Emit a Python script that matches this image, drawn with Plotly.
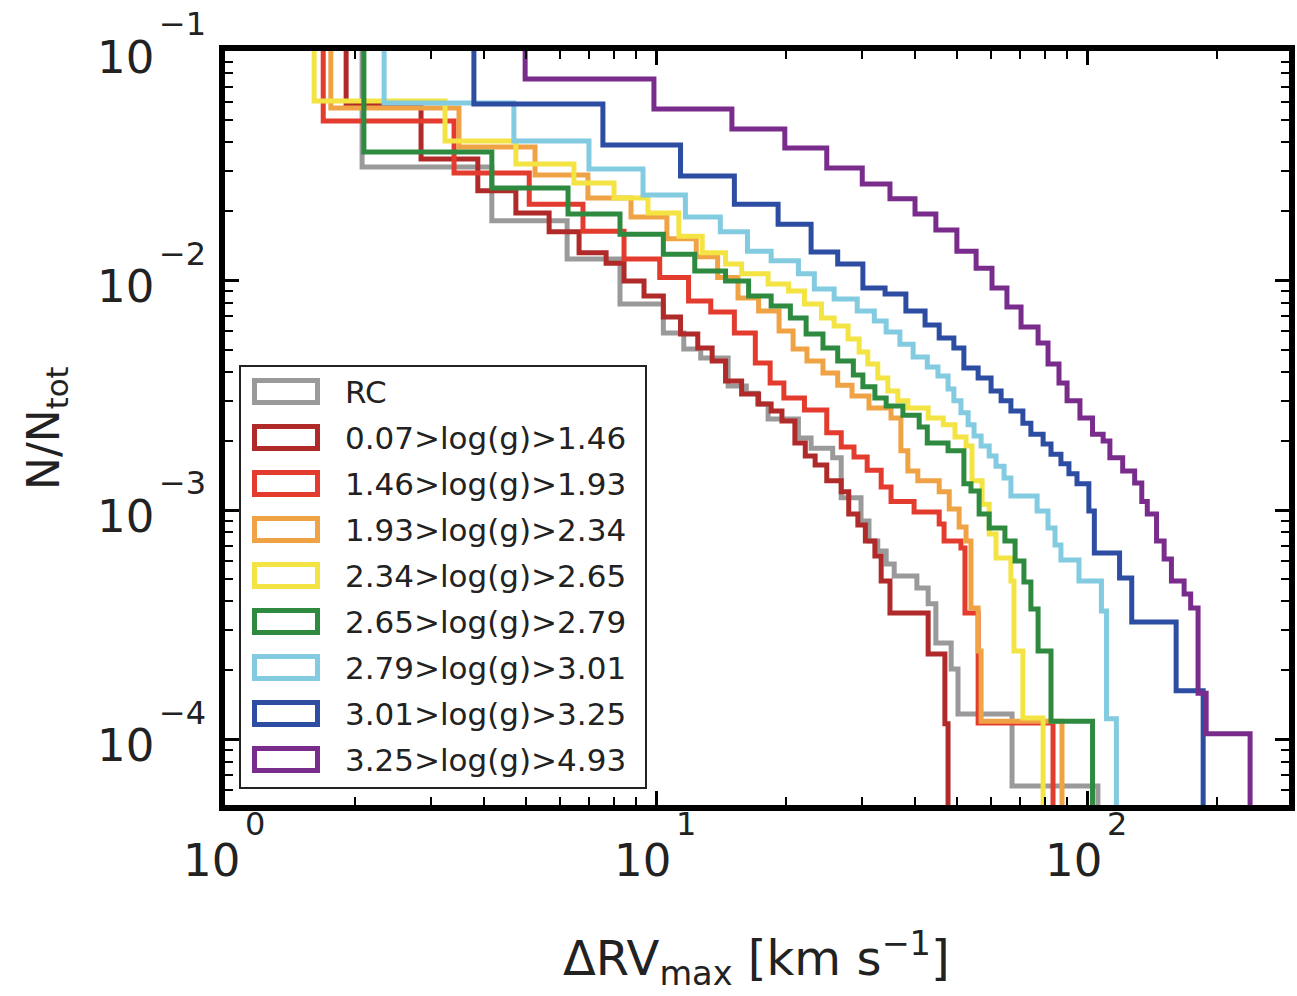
import numpy as np
import plotly.graph_objects as go

# ---------------------------------------------------------------
# Cumulative distributions N(>dRV_max)/N_tot per surface-gravity bin.
# *_x : bin edges (km/s) where each level starts, last entry = maximum
# *_y : fraction of stars above the corresponding edge
# ---------------------------------------------------------------
labels = ["RC", "0.07>log(g)>1.46", "1.46>log(g)>1.93", "1.93>log(g)>2.34",
          "2.34>log(g)>2.65", "2.65>log(g)>2.79", "2.79>log(g)>3.01",
          "3.01>log(g)>3.25", "3.25>log(g)>4.93"]
colors = ["#9a9a9a", "#b02a2a", "#e33b2e", "#f0a345", "#f4e443",
          "#2e8a3e", "#82cbe0", "#2d4da3", "#7a2c8c"]

rc_x = [2.08, 4.16, 6.22, 8.25, 10.4, 11.6, 12.7, 14.7, 16.2, 17.2, 18.2, 21.4, 22.9,
        25.7, 26.9, 29.9, 31.2, 32.7, 34.2, 35.7, 40.3, 42.8, 44.6, 48.4, 50.2, 67.0, 106]
rc_y = [0.0312, 0.0182, 0.0124, 0.0079, 0.0059, 0.00503, 0.0046, 0.00347, 0.00323,
        0.0029, 0.00249, 0.00206, 0.00186, 0.00169, 0.00113, 0.000896, 0.000733,
        0.000663, 0.000582, 0.000516, 0.000457, 0.00039, 0.000263, 0.000203,
        0.000129, 6.27e-5]

g1_x = [1.91, 2.85, 3.86, 4.73, 5.65, 6.63, 7.66, 8.43, 9.38, 10.4, 11.4, 12.5, 13.5,
        14.5, 15.8, 17.3, 18.5, 19.6, 21.0, 22.2, 23.4, 24.9, 26.9, 28.0, 29.4, 30.6,
        32.2, 33.3, 34.9, 42.8, 46.8, 47.6]
g1_y = [0.0582, 0.0338, 0.0246, 0.0197, 0.0163, 0.0132, 0.0119, 0.00995, 0.00856,
        0.00693, 0.00585, 0.00508, 0.00446, 0.00365, 0.0032, 0.0029, 0.0027, 0.00244,
        0.00196, 0.00172, 0.00157, 0.00134, 0.0012, 0.00096, 0.00086, 0.000733,
        0.00063, 0.00049, 0.000356, 0.000236, 0.000117]

g2_x = [1.69, 3.40, 5.08, 6.77, 8.43, 10.2, 11.9, 13.4, 15.2, 17.0, 18.4, 19.8, 22.1,
        24.9, 26.9, 28.8, 30.9, 33.3, 35.1, 39.7, 45.4, 46.6, 51.0, 52.1, 55.9, 83.4]
g2_y = [0.0496, 0.0294, 0.0215, 0.0164, 0.0124, 0.0103, 0.00814, 0.00729, 0.0059,
        0.00437, 0.00358, 0.00308, 0.00273, 0.00217, 0.00188, 0.0017, 0.00149,
        0.00126, 0.00109, 0.00098, 0.000869, 0.000733, 0.000683, 0.000356, 0.000118]

g3_x = [1.76, 3.49, 5.24, 6.95, 8.75, 10.6, 12.4, 13.9, 15.5, 17.3, 19.3, 20.8, 22.4,
        24.4, 26.4, 28.5, 31.2, 35.1, 37.0, 38.4, 40.5, 45.4, 47.9, 50.5, 52.4, 53.8,
        55.9, 56.8, 87.5]
g3_y = [0.0564, 0.0382, 0.0288, 0.0229, 0.0189, 0.0152, 0.0127, 0.0103, 0.00839,
        0.00736, 0.00603, 0.00503, 0.00446, 0.00395, 0.0035, 0.00314, 0.00278,
        0.00252, 0.00181, 0.00148, 0.00134, 0.0012, 0.00101, 0.000843, 0.000733,
        0.000374, 0.000243, 0.00012]

g4_x = [1.61, 3.24, 4.73, 6.45, 7.99, 9.58, 11.3, 12.8, 14.5, 15.8, 18.2, 20.3, 22.1,
        24.2, 25.9, 27.9, 29.6, 31.0, 32.7, 34.5, 36.4, 38.4, 42.8, 46.4, 49.4, 52.4,
        54.1, 57.1, 59.3, 61.5, 66.6, 67.7, 71.0, 79.1]
g4_y = [0.0606, 0.0405, 0.0322, 0.0266, 0.0229, 0.0197, 0.0156, 0.0132, 0.0118,
        0.0107, 0.00965, 0.009, 0.0079, 0.00686, 0.00633, 0.00556, 0.00488, 0.00433,
        0.00376, 0.0033, 0.00299, 0.00278, 0.00252, 0.00235, 0.00208, 0.0019,
        0.00134, 0.00106, 0.000786, 0.000618, 0.00049, 0.000243, 0.000124]

g5_x = [2.10, 4.16, 6.25, 8.25, 10.4, 12.3, 14.5, 16.4, 18.5, 20.5, 22.3, 24.4, 26.4,
        28.7, 30.2, 32.2, 34.2, 37.4, 40.8, 42.6, 47.6, 51.8, 53.8, 56.2, 59.3, 64.5,
        68.1, 71.4, 74.1, 77.0, 82.5, 103]
g5_y = [0.0363, 0.0253, 0.0195, 0.0159, 0.013, 0.011, 0.00995, 0.00856, 0.00774,
        0.00686, 0.00585, 0.00508, 0.00446, 0.00387, 0.00344, 0.00308, 0.00284,
        0.00259, 0.0023, 0.00196, 0.00181, 0.0013, 0.00121, 0.00096, 0.000835,
        0.000733, 0.000599, 0.000486, 0.00037, 0.000243, 0.00012]

g6_x = [2.34, 4.68, 6.99, 9.33, 11.7, 14.1, 16.3, 18.5, 21.4, 23.3, 25.9, 29.3, 32.1,
        34.2, 36.8, 39.5, 42.6, 45.1, 47.6, 49.1, 51.0, 53.0, 54.7, 56.8, 59.3, 61.5,
        64.2, 66.6, 76.6, 81.2, 84.3, 87.0, 95.8, 108, 111, 117]
g6_y = [0.0594, 0.0405, 0.0306, 0.0236, 0.0189, 0.0163, 0.0134, 0.0122, 0.0107,
        0.00918, 0.0083, 0.00736, 0.00666, 0.00596, 0.00528, 0.00464, 0.0042,
        0.00384, 0.00337, 0.00299, 0.00265, 0.00235, 0.0021, 0.0019, 0.00172,
        0.00155, 0.00138, 0.00115, 0.00099, 0.000835, 0.000704, 0.000605, 0.00049,
        0.000363, 0.000123]

g7_x = [3.78, 7.53, 11.4, 15.2, 19.2, 22.9, 26.4, 30.2, 34.0, 38.0, 42.1, 45.4, 49.1,
        51.8, 55.9, 59.9, 63.2, 66.6, 71.0, 74.1, 79.1, 82.5, 87.0, 90.8, 94.8, 101,
        104, 119, 127, 161, 186]
g7_y = [0.0588, 0.0389, 0.0285, 0.0215, 0.0176, 0.0133, 0.0118, 0.00927, 0.00873,
        0.00736, 0.0064, 0.00562, 0.00508, 0.00416, 0.00376, 0.0033, 0.00299, 0.0027,
        0.00239, 0.00214, 0.00194, 0.00175, 0.00159, 0.00144, 0.0013, 0.00099,
        0.00065, 0.000505, 0.000325, 0.000163]

g8_x = [4.97, 9.89, 15.0, 19.9, 24.9, 30.1, 34.9, 39.9, 44.6, 49.9, 55.3, 60.2, 65.2,
        70.3, 77.0, 81.2, 86.1, 89.9, 96.3, 103, 109, 113, 121, 129, 134, 138, 145,
        151, 157, 168, 174, 181, 189, 239]
g8_y = [0.0755, 0.0559, 0.0457, 0.0378, 0.0309, 0.0263, 0.0227, 0.0195, 0.0166,
        0.0134, 0.0113, 0.00927, 0.00766, 0.00627, 0.00534, 0.00433, 0.00358,
        0.00299, 0.00252, 0.00214, 0.002, 0.00169, 0.00148, 0.00131, 0.00109,
        0.00096, 0.000733, 0.000612, 0.000491, 0.00043, 0.000374, 0.000159, 0.000106]

series_x = [rc_x, g1_x, g2_x, g3_x, g4_x, g5_x, g6_x, g7_x, g8_x]
series_y = [rc_y, g1_y, g2_y, g3_y, g4_y, g5_y, g6_y, g7_y, g8_y]

x_tick_vals = [1, 10, 100]
x_tick_exp = ["0", "1", "2"]
y_tick_vals = [1e-1, 1e-2, 1e-3, 1e-4]
y_tick_exp = ["\u22121", "\u22122", "\u22123", "\u22124"]

# ---------------------------------------------------------------
W, H = 1297, 996
PL, PR, PT, PB = 225, 1289, 51, 805      # plot-area pixel bounds
FONT = "DejaVu Sans"
TXT = "#222222"


def px(xpix):
    return (xpix - PL) / (PR - PL)


def py(ypix):
    return (PB - ypix) / (PB - PT)


def step_path(edges, levels, top=1.0, floor=1e-7):
    xs = [edges[0]] + list(edges[:-1]) + [edges[-1]]
    ys = [top] + list(levels) + [floor]
    return xs, ys


fig = go.Figure()
for sx, sy, name, col in zip(series_x, series_y, labels, colors):
    xs, ys = step_path(sx, sy)
    fig.add_trace(go.Scatter(x=xs, y=ys, mode="lines", name=name,
                             line=dict(color=col, width=5, shape="hv"),
                             showlegend=False, hoverinfo="skip"))

axis_common = dict(
    type="log", showline=True, linewidth=6, linecolor="black", mirror="ticks",
    ticks="inside", ticklen=14, tickwidth=3, tickcolor="black",
    showgrid=False, zeroline=False, showticklabels=False,
    tickmode="array",
    minor=dict(ticks="inside", ticklen=8, tickwidth=2, tickcolor="black",
               dtick="D1", showgrid=False),
)
fig.update_xaxes(range=[0, (PR - PL) / 431], tickvals=x_tick_vals, **axis_common)
fig.update_yaxes(range=[-1 - (PB - PT) / 229.5, -1], tickvals=y_tick_vals, **axis_common)

ann = []
# tick labels with raised exponents
for v, e in zip(x_tick_vals, x_tick_exp):
    ann.append(dict(x=np.log10(v), xref="x", y=py(860), yref="paper", text="10",
                    xshift=-14, showarrow=False, xanchor="center", yanchor="middle",
                    font=dict(family=FONT, size=45, color=TXT)))
    ann.append(dict(x=np.log10(v), xref="x", y=py(824), yref="paper", text=e,
                    xshift=30, showarrow=False, xanchor="center", yanchor="middle",
                    font=dict(family=FONT, size=32, color=TXT)))
for v, e in zip(y_tick_vals, y_tick_exp):
    ann.append(dict(x=px(156), xref="paper", y=np.log10(v), yref="y", text="10",
                    yshift=-6, showarrow=False, xanchor="right", yanchor="middle",
                    font=dict(family=FONT, size=45, color=TXT)))
    ann.append(dict(x=px(157), xref="paper", y=np.log10(v), yref="y", text=e,
                    yshift=27, showarrow=False, xanchor="left", yanchor="middle",
                    font=dict(family=FONT, size=32, color=TXT)))

# axis titles
ann.append(dict(x=px(756), xref="paper", y=py(958), yref="paper",
                text="\u0394RV<sub>max</sub> [km s<sup>\u22121</sup>]",
                showarrow=False, xanchor="center", yanchor="middle",
                font=dict(family=FONT, size=48, color=TXT)))
ann.append(dict(x=px(46), xref="paper", y=py(428), yref="paper",
                text="N/N<sub>tot</sub>", textangle=-90,
                showarrow=False, xanchor="center", yanchor="middle",
                font=dict(family=FONT, size=44, color=TXT)))

# legend: framed box with outlined swatches
shapes = [dict(type="rect", xref="paper", yref="paper",
               x0=px(240), x1=px(646), y0=py(788), y1=py(366),
               line=dict(color="#222222", width=2), fillcolor="white", layer="above")]
row0, drow = 391.5, 46
for i, (name, col) in enumerate(zip(labels, colors)):
    cy = row0 + i * drow
    shapes.append(dict(type="rect", xref="paper", yref="paper",
                       x0=px(254.5), x1=px(317.5), y0=py(cy + 11), y1=py(cy - 11),
                       line=dict(color=col, width=5), fillcolor="white", layer="above"))
    ann.append(dict(x=px(343), xref="paper", y=py(cy), yref="paper", text=name,
                    showarrow=False, xanchor="left", yanchor="middle",
                    font=dict(family=FONT, size=31, color=TXT)))

fig.update_layout(
    width=W, height=H,
    margin=dict(l=PL, r=W - PR, t=PT, b=H - PB, autoexpand=False),
    paper_bgcolor="white", plot_bgcolor="white",
    showlegend=False,
    annotations=ann, shapes=shapes,
)

fig.write_html("out.html")
